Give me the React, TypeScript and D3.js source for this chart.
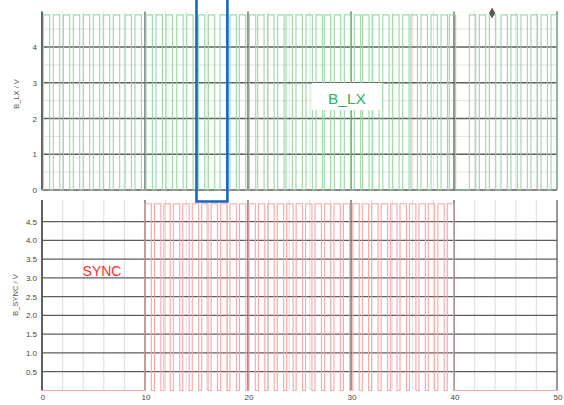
import { useEffect, useRef } from "react";
import * as d3 from "d3";

// rising edges (time units)
const lxRises = [
  0.13, 1.1, 2.07, 3.04, 4.01, 4.98, 5.95, 6.92, 8.06, 9.03, 10.1, 11.07, 12.04,
  13.08, 14.05, 15.18, 16.15, 17.28, 18.25, 19.16, 20.13, 20.94, 21.91, 22.88,
  23.69, 24.66, 25.63, 26.6, 27.41, 28.38, 29.35, 30.32, 31.13, 32.11, 33.08,
  34.05, 35.02, 35.83, 36.8, 37.77, 38.74, 39.54, 41.49, 42.46, 43.43, 44.56,
  45.53, 46.5, 47.48, 48.45, 49.42,
];
const syncRises = [
  10.0, 10.92, 11.83, 12.75, 13.67, 14.59, 15.5, 16.42, 17.34, 18.25, 19.17,
  20.09, 21.01, 21.92, 22.84, 23.76, 24.67, 25.59, 26.51, 27.43, 28.34, 29.26,
  30.18, 31.09, 32.01, 32.93, 33.85, 34.76, 35.68, 36.6, 37.51, 38.43, 39.35,
];
const lxPulseWidth = 0.62;
const syncPulseWidth = 0.62;
const lxHigh = 4.9;
const syncHigh = 4.98;

const xTicks = [0, 10, 20, 30, 40, 50];
const xMinor = [2, 4, 6, 8, 12, 14, 16, 18, 22, 24, 26, 28, 32, 34, 36, 38, 42, 44, 46, 48];
const lxTicks = [0, 1, 2, 3, 4];
const lxMinor = [0.5, 1.5, 2.5, 3.5, 4.5];
const syncTicks = [0.5, 1.0, 1.5, 2.0, 2.5, 3.0, 3.5, 4.0, 4.5];
const zoomWindow = [15, 18];
const markerPoint = [43.7, 4.95];

const font = "'Liberation Sans', Arial, sans-serif";

function pulsePoints(rises: number[], width: number, high: number): [number, number][] {
  const pts: [number, number][] = [[0, 0]];
  rises.forEach((r) => {
    const f = Math.min(r + width, 50);
    pts.push([r, 0], [r, high], [f, high], [f, 0]);
  });
  pts.push([50, 0]);
  return pts;
}

export default function App() {
  const svgRef = useRef<SVGSVGElement>(null);

  useEffect(() => {
    const svg = d3.select(svgRef.current);
    svg.selectAll("*").remove();

    const x = d3.scaleLinear().domain([0, 50]).range([42, 557]);
    const yTop = d3.scaleLinear().domain([0, 4]).range([190, 47]);
    const yBot = d3.scaleLinear().domain([0.5, 4.5]).range([371.7, 221.7]);

    const dark = "#5e5e5e";
    const light = "#e2e2e2";

    // ---- top panel (B_LX)
    const top = svg.append("g");
    const topY0 = yTop(0);
    const topY1 = yTop(4.99);
    top.selectAll(".vmin").data(xMinor).join("line")
      .attr("x1", (d) => x(d)).attr("x2", (d) => x(d))
      .attr("y1", topY1).attr("y2", topY0)
      .attr("stroke", light).attr("stroke-width", 1);
    top.selectAll(".hmin").data(lxMinor).join("line")
      .attr("x1", x(0)).attr("x2", x(50))
      .attr("y1", (d) => yTop(d)).attr("y2", (d) => yTop(d))
      .attr("stroke", light).attr("stroke-width", 1);
    top.selectAll(".hmaj").data(lxTicks).join("line")
      .attr("x1", x(0)).attr("x2", x(50))
      .attr("y1", (d) => yTop(d)).attr("y2", (d) => yTop(d))
      .attr("stroke", dark).attr("stroke-width", 1.3);
    top.selectAll(".vmaj").data(xTicks).join("line")
      .attr("x1", (d) => x(d)).attr("x2", (d) => x(d))
      .attr("y1", topY1).attr("y2", topY0)
      .attr("stroke", dark).attr("stroke-width", (d) => (d === 0 ? 2 : 1.3));

    const lxLine = d3.line<[number, number]>().x((d) => x(d[0])).y((d) => yTop(d[1]));
    top.append("path")
      .attr("d", lxLine(pulsePoints(lxRises, lxPulseWidth, lxHigh)))
      .attr("fill", "none").attr("stroke", "#92d69c").attr("stroke-opacity", 0.9)
      .attr("stroke-width", 1.15);

    top.selectAll(".ylab").data(lxTicks).join("text")
      .attr("x", 37).attr("y", (d) => yTop(d) + 3)
      .attr("text-anchor", "end").attr("font-size", 8).attr("font-family", font)
      .attr("fill", "#444").text((d) => d3.format("d")(d));
    top.append("text")
      .attr("transform", `translate(19,${94}) rotate(-90)`)
      .attr("text-anchor", "middle").attr("font-size", 7.5).attr("font-family", font)
      .attr("fill", "#555").text("B_LX / V");

    top.append("rect").attr("x", 312).attr("y", 83).attr("width", 70).attr("height", 27)
      .attr("fill", "#fff");
    top.append("text").attr("x", 347).attr("y", 103.5).attr("text-anchor", "middle")
      .attr("font-size", 15.5).attr("font-family", font).attr("fill", "#2db45e").text("B_LX");

    top.append("path")
      .attr("d", d3.symbol(d3.symbolDiamond, 34)())
      .attr("transform", `translate(${x(markerPoint[0])},${yTop(markerPoint[1])})`)
      .attr("fill", "#5a5a5a");

    // ---- bottom panel (B_SYNC)
    const bot = svg.append("g");
    const botY0 = yBot(0);
    const botY1 = yBot(5.08);
    bot.selectAll(".vmin").data(xMinor).join("line")
      .attr("x1", (d) => x(d)).attr("x2", (d) => x(d))
      .attr("y1", botY1).attr("y2", botY0)
      .attr("stroke", light).attr("stroke-width", 1.2);
    bot.selectAll(".hmaj").data(syncTicks).join("line")
      .attr("x1", x(0)).attr("x2", x(50))
      .attr("y1", (d) => yBot(d)).attr("y2", (d) => yBot(d))
      .attr("stroke", dark).attr("stroke-width", 1.3);
    bot.selectAll(".vmaj").data(xTicks).join("line")
      .attr("x1", (d) => x(d)).attr("x2", (d) => x(d))
      .attr("y1", botY1).attr("y2", botY0)
      .attr("stroke", dark).attr("stroke-width", (d) => (d === 0 ? 2 : 1.3));

    const syncLine = d3.line<[number, number]>().x((d) => x(d[0])).y((d) => yBot(d[1]));
    bot.append("path")
      .attr("d", syncLine(pulsePoints(syncRises, syncPulseWidth, syncHigh)))
      .attr("fill", "none").attr("stroke", "#f7a0a0").attr("stroke-opacity", 0.9)
      .attr("stroke-width", 1.15);

    bot.selectAll(".ylab").data(syncTicks).join("text")
      .attr("x", 37).attr("y", (d) => yBot(d) + 3)
      .attr("text-anchor", "end").attr("font-size", 8).attr("font-family", font)
      .attr("fill", "#444").text((d) => d3.format(".1f")(d));
    bot.append("text")
      .attr("transform", `translate(18,${295}) rotate(-90)`)
      .attr("text-anchor", "middle").attr("font-size", 7.5).attr("font-family", font)
      .attr("fill", "#555").text("B_SYNC / V");
    bot.selectAll(".xlab").data(xTicks).join("text")
      .attr("x", (d) => x(d) + 1).attr("y", 399.5)
      .attr("text-anchor", "middle").attr("font-size", 8).attr("font-family", font)
      .attr("fill", "#444").text((d) => d3.format("d")(d));
    bot.append("text").attr("x", 102).attr("y", 275.5).attr("text-anchor", "middle")
      .attr("font-size", 14).attr("font-family", font).attr("fill", "#ff2b2b").text("SYNC");

    // ---- highlight window
    svg.append("path")
      .attr("d", `M${x(zoomWindow[0])},-5V201.5H${x(zoomWindow[1])}V-5`)
      .attr("fill", "none").attr("stroke", "#1467c2").attr("stroke-width", 2.6);
  }, []);

  return (
    <svg
      ref={svgRef}
      width={564}
      height={405}
      style={{ position: "absolute", left: 0, top: 0, background: "#fff" }}
    ></svg>
  );
}
